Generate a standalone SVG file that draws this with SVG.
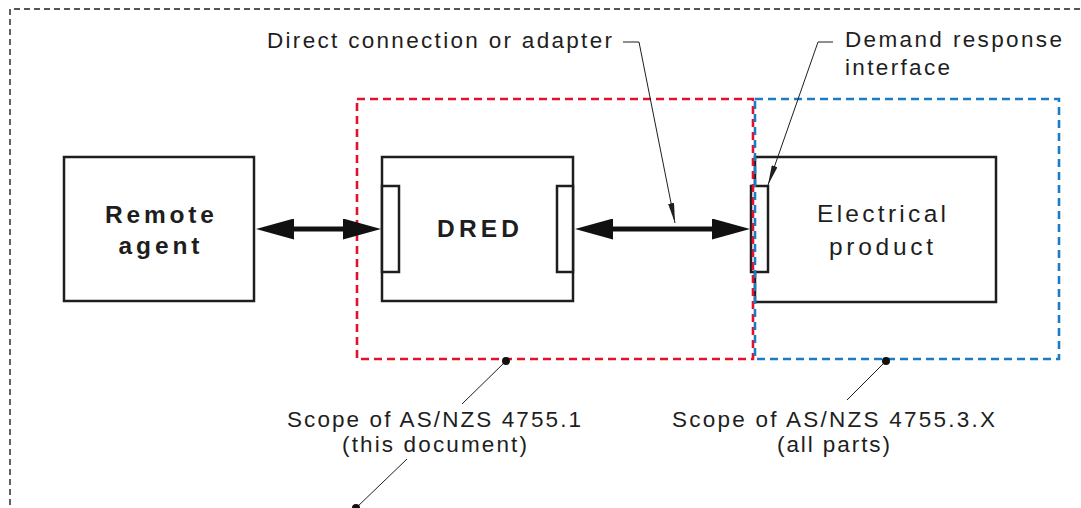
<svg xmlns="http://www.w3.org/2000/svg" width="1081" height="508" viewBox="0 0 1081 508">
<style>
text{font-family:"Liberation Sans",Arial,sans-serif;fill:#1e1e1e}
.lbl{font-size:22.5px}
.box{fill:#fff;stroke:#1e1e1e;stroke-width:2.5}
.port{fill:#fff;stroke:#1e1e1e;stroke-width:2.5}
.bold{font-size:24.5px;font-weight:bold}
.reg{font-size:24.5px}
.outer{fill:none;stroke:#1e1e1e;stroke-width:1.4;stroke-dasharray:6 4}
.red{fill:none;stroke:#e3122c;stroke-width:2.6;stroke-dasharray:8 5}
.blue{fill:none;stroke:#1b7cc3;stroke-width:2.6;stroke-dasharray:8 5}
.thick{stroke:#111;stroke-width:5;fill:none}
.lead{stroke:#1e1e1e;stroke-width:1;fill:none}
.dot{fill:#111}
</style>
<defs>
<marker id="big" viewBox="0 0 38 21" refX="18" refY="10.5" markerWidth="38" markerHeight="21" markerUnits="userSpaceOnUse" orient="auto-start-reverse">
<path d="M0,0 L38,10.5 L0,21 z" fill="#111"/>
</marker>
<marker id="small" viewBox="0 0 20 6" refX="20" refY="3" markerWidth="20" markerHeight="6" markerUnits="userSpaceOnUse" orient="auto">
<path d="M0,0 L20,3 L0,6 z" fill="#1e1e1e"/>
</marker>
</defs>
<g id="outer-scope">
<path class="outer" d="M10,515 V9 H1090"/>
</g>
<g id="remote-agent">
<rect class="box" x="64" y="157" width="190" height="144"/>
<text class="bold" x="159.5" y="223" text-anchor="middle" textLength="109" lengthAdjust="spacing">Remote</text>
<text class="bold" x="159" y="254" text-anchor="middle" textLength="81" lengthAdjust="spacing">agent</text>
</g>
<g id="dred">
<rect class="box" x="382" y="157" width="191" height="144"/>
<rect class="port" x="382" y="186" width="17" height="86"/>
<rect class="port" x="557" y="186" width="16" height="86"/>
<text class="bold" x="478" y="237" text-anchor="middle" textLength="82" lengthAdjust="spacing">DRED</text>
</g>
<g id="electrical-product">
<rect class="box" x="755" y="157" width="241" height="145"/>
<rect class="port" x="751" y="186" width="17" height="86"/>
<text class="reg" x="881.5" y="222" text-anchor="middle" textLength="129" lengthAdjust="spacing">Electrical</text>
<text class="reg" x="881" y="255" text-anchor="middle" textLength="104" lengthAdjust="spacing">product</text>
</g>
<g id="scope-4755-1">
<rect class="red" x="357" y="99" width="396" height="260"/>
</g>
<g id="scope-4755-3">
<rect class="blue" x="755" y="99" width="304" height="260"/>
</g>
<g id="connectors">
<line class="thick" x1="276" y1="229" x2="361" y2="229" marker-start="url(#big)" marker-end="url(#big)"/>
<line class="thick" x1="595" y1="229" x2="730" y2="229" marker-start="url(#big)" marker-end="url(#big)"/>
<polyline class="lead" points="623,42 639,42 675,223" marker-end="url(#small)"/>
<polyline class="lead" points="833,42 818,42 768,185" marker-end="url(#small)"/>
<line class="lead" x1="506" y1="361" x2="462" y2="404"/>
<circle class="dot" cx="506" cy="361" r="4"/>
<line class="lead" x1="886" y1="361" x2="847" y2="400"/>
<circle class="dot" cx="886" cy="361" r="4"/>
<line class="lead" x1="407" y1="459" x2="356" y2="508"/>
<circle class="dot" cx="356" cy="508" r="4"/>
</g>
<g id="labels">
<text class="lbl" x="267" y="48" textLength="345" lengthAdjust="spacing">Direct connection or adapter</text>
<text class="lbl" x="845" y="47" textLength="217" lengthAdjust="spacing">Demand response</text>
<text class="lbl" x="845" y="75" textLength="105" lengthAdjust="spacing">interface</text>
<text class="lbl" x="434" y="427" text-anchor="middle" textLength="294" lengthAdjust="spacing">Scope of AS/NZS 4755.1</text>
<text class="lbl" x="434.5" y="452" text-anchor="middle" textLength="185" lengthAdjust="spacing">(this document)</text>
<text class="lbl" x="833.5" y="427" text-anchor="middle" textLength="323" lengthAdjust="spacing">Scope of AS/NZS 4755.3.X</text>
<text class="lbl" x="833.5" y="452" text-anchor="middle" textLength="113" lengthAdjust="spacing">(all parts)</text>
</g>
</svg>
